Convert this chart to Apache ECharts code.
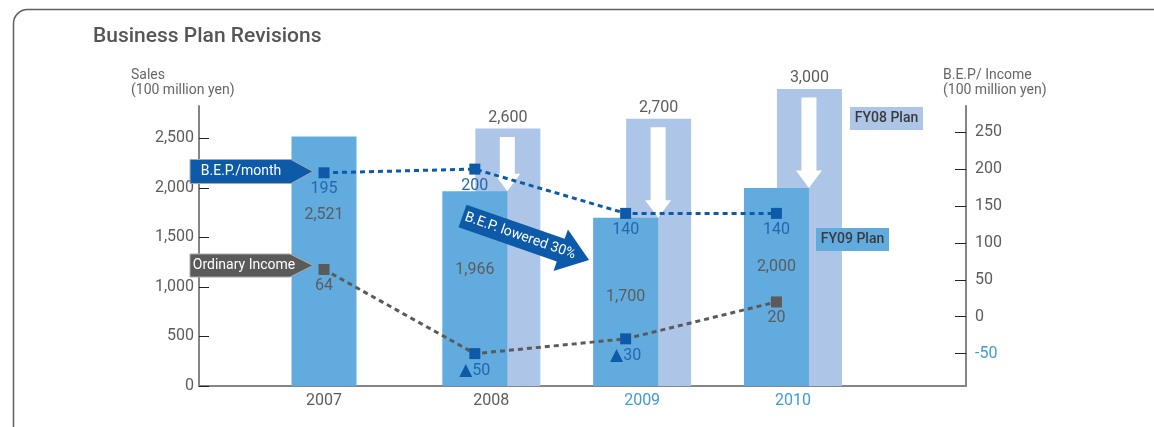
<!DOCTYPE html>
<html><head><meta charset="utf-8">
<script src="https://cdn.jsdelivr.net/npm/echarts@6/dist/echarts.min.js"></script>
<style>html,body{margin:0;padding:0;background:#fff}#c{width:1154px;height:427px}</style>
</head><body><div id="c"></div>
<script>
// ---- data ----
const years = ['2007', '2008', '2009', '2010'];
const forecastYears = ['2009', '2010'];
const salesFY09Plan = [2521, 1966, 1700, 2000];      // results / FY09 plan
const salesFY08Plan = [null, 2600, 2700, 3000];      // FY08 plan
const bepPerMonth = [195, 200, 140, 140];
const ordinaryIncome = [64, -50, -30, 20];
const salesTicks = [0, 500, 1000, 1500, 2000, 2500];
const incomeTicks = [-50, 0, 50, 100, 150, 200, 250];

// ---- style ----
const FONT = 'Roboto, "Liberation Sans", sans-serif';
const C = {
  front: '#62abdf', back: '#adc6e7', blue: '#0d5ba8', blueText: '#2168b1',
  gray: '#5a5a5a', text: '#5c5c5c', yearBlue: '#3f9ad8', axis: '#858585', tick: '#222'
};
const fmt = v => Number(v).toLocaleString('en-US');
const backShift = 33 / 150.8; // back bar offset, in x-axis units

const chart = echarts.init(document.getElementById('c'), null, { renderer: 'canvas' });

const option = {
  animation: false,
  backgroundColor: '#fff',
  textStyle: { fontFamily: FONT },
  grid: { left: 199, right: 188, top: 106, bottom: 41 },
  xAxis: [
    {
      type: 'value', min: -0.829, max: 4.257,
      axisLine: { show: true, onZero: false, lineStyle: { color: C.axis, width: 2 } },
      axisTick: { show: false }, splitLine: { show: false },
      axisLabel: {
        customValues: years.map((y, i) => i), margin: 7,
        formatter: v => {
          const i = Math.round(v), y = years[i];
          const key = (forecastYears.includes(y) ? 'b' : 'g') + (salesFY08Plan[i] != null ? 's' : '');
          return '{' + key + '|' + y + '}';
        },
        rich: {
          g: { color: C.text, fontSize: 16, fontFamily: FONT },
          gs: { color: C.text, fontSize: 16, fontFamily: FONT, padding: [0, 0, 0, 33] },
          bs: { color: C.yearBlue, fontSize: 16, fontFamily: FONT, padding: [0, 0, 0, 33] }
        }
      }
    },
    { type: 'value', min: -0.829 - backShift, max: 4.257 - backShift, show: false }
  ],
  yAxis: [
    {
      type: 'value', position: 'left', min: 0, max: 2828,
      axisLine: { show: true, onZero: false, lineStyle: { color: C.axis, width: 2 } },
      axisTick: { show: true, inside: true, length: 10, customValues: salesTicks, lineStyle: { color: C.tick, width: 1 } },
      axisLabel: { customValues: salesTicks, margin: 5, color: C.text, fontSize: 16, formatter: v => fmt(v) },
      splitLine: { show: false }
    },
    {
      type: 'value', position: 'right', min: -93.9, max: 285.5,
      axisLine: { show: true, onZero: false, lineStyle: { color: C.axis, width: 2 } },
      axisTick: { show: true, inside: true, length: 11, customValues: incomeTicks, lineStyle: { color: C.tick, width: 1 } },
      axisLabel: { customValues: incomeTicks, margin: 9, fontSize: 16, color: v => (Number(v) < 0 ? C.yearBlue : C.text) },
      splitLine: { show: false }
    }
  ],
  series: [
    {
      name: 'FY08 Plan', type: 'bar', xAxisIndex: 1, yAxisIndex: 0, barWidth: 65, clip: false, z: 2,
      itemStyle: { color: C.back },
      label: { show: true, position: 'top', distance: 3, color: C.text, fontSize: 16, formatter: p => fmt(p.value[1]) },
      data: salesFY08Plan.map((v, i) => (v == null ? null : [i, v])).filter(d => d)
    },
    {
      name: 'FY09 Plan', type: 'bar', xAxisIndex: 0, yAxisIndex: 0, barWidth: 65, clip: false, z: 3,
      itemStyle: { color: C.front },
      label: { show: true, position: ['50%', 79], align: 'center', verticalAlign: 'middle', color: C.text, fontSize: 16, formatter: p => fmt(p.value[1]) },
      data: salesFY09Plan.map((v, i) => [i, v])
    },
    {
      name: 'Revision', type: 'custom', xAxisIndex: 1, yAxisIndex: 0, z: 4, clip: false,
      encode: { x: 0, y: [1, 2] },
      data: salesFY08Plan.map((v, i) => (v == null ? null : [i, v, salesFY09Plan[i]])).filter(d => d),
      renderItem: (params, api) => {
        const x = api.value(0);
        const top = api.coord([x, api.value(1)]);
        const tip = api.coord([x, api.value(2)]);
        const cx = top[0] - 0.5, y0 = top[1] + 8.5, y1 = tip[1], hl = 17.5, sw = 7.5, hw = 13;
        return {
          type: 'polygon',
          shape: { points: [[cx - sw, y0], [cx + sw, y0], [cx + sw, y1 - hl], [cx + hw, y1 - hl], [cx, y1], [cx - hw, y1 - hl], [cx - sw, y1 - hl]] },
          style: { fill: '#fff' }
        };
      }
    },
    {
      name: 'B.E.P./month', type: 'line', xAxisIndex: 0, yAxisIndex: 1, z: 5,
      symbol: 'rect', symbolSize: 11,
      itemStyle: { color: C.blue },
      lineStyle: { color: C.blue, width: 3, type: [5, 4] },
      label: { show: true, position: 'bottom', distance: 3, color: C.blueText, fontSize: 16, formatter: p => p.value[1] },
      data: bepPerMonth.map((v, i) => [i, v])
    },
    {
      name: 'Ordinary Income', type: 'line', xAxisIndex: 0, yAxisIndex: 1, z: 5,
      symbol: 'rect', symbolSize: 11,
      itemStyle: { color: p => (p.value[1] < 0 ? C.blue : C.gray) },
      lineStyle: { color: C.gray, width: 3, type: [5, 4] },
      label: {
        show: true, position: 'bottom', distance: 3, fontSize: 16,
        formatter: p => (p.value[1] < 0 ? '{t|▲}{n|' + (-p.value[1]) + '}' : '{p|' + p.value[1] + '}'),
        rich: {
          t: { color: C.blue, fontSize: 17, fontFamily: '"DejaVu Sans"' },
          n: { color: C.blueText, fontSize: 16, fontFamily: FONT },
          p: { color: C.text, fontSize: 16, fontFamily: FONT }
        }
      },
      data: ordinaryIncome.map((v, i) => [i, v])
    }
  ],
  graphic: [
    { type: 'rect', silent: true, z: 0, shape: { x: 13.5, y: 9.5, width: 1400, height: 800, r: 14 }, style: { fill: null, stroke: '#5e5e5e', lineWidth: 1.5 } },
    { type: 'text', z: 100, x: 93, y: 37, style: { text: 'Business Plan Revisions', font: '500 21px ' + FONT, fill: '#555', align: 'left', verticalAlign: 'middle' } },
    { type: 'text', z: 100, x: 131, y: 82.5, style: { text: 'Sales\n(100 million yen)', font: '14px ' + FONT, lineHeight: 15, fill: '#666', align: 'left', verticalAlign: 'middle' } },
    { type: 'text', z: 100, x: 943, y: 82.5, style: { text: 'B.E.P/ Income\n(100 million yen)', font: '14px ' + FONT, lineHeight: 15, fill: '#666', align: 'left', verticalAlign: 'middle' } },
    // callouts
    { type: 'polygon', z: 100, shape: { points: [[190, 159.5], [291, 159.5], [313, 171.5], [291, 183.5], [190, 183.5]] }, style: { fill: C.blue, stroke: '#a9a9a9', lineWidth: 1 } },
    { type: 'text', z: 101, x: 241, y: 171.5, style: { text: 'B.E.P./month', font: '14px ' + FONT, fill: '#fff', align: 'center', verticalAlign: 'middle' } },
    { type: 'polygon', z: 100, shape: { points: [[190, 254], [290, 254], [313, 265.5], [290, 277], [190, 277]] }, style: { fill: C.gray, stroke: '#a9a9a9', lineWidth: 1 } },
    { type: 'text', z: 101, x: 244, y: 265.5, style: { text: 'Ordinary Income', font: '14px ' + FONT, fill: '#fff', align: 'center', verticalAlign: 'middle' } },
    {
      type: 'group', x: 462.5, y: 216, rotation: -0.335,
      children: [
        { type: 'polygon', z: 100, shape: { points: [[0, -12], [104, -12], [104, -22], [134, 0], [104, 22], [104, 12], [0, 12]] }, style: { fill: C.blue } },
        { type: 'text', z: 101, x: 61, y: 0, style: { text: 'B.E.P. lowered 30%', font: '14px ' + FONT, fill: '#fff', align: 'center', verticalAlign: 'middle' } }
      ]
    },
    // legend boxes
    { type: 'rect', z: 100, shape: { x: 850, y: 107, width: 73, height: 23 }, style: { fill: C.back } },
    { type: 'text', z: 101, x: 886.5, y: 118.5, style: { text: 'FY08 Plan', font: '500 14px ' + FONT, fill: '#3a3a3a', align: 'center', verticalAlign: 'middle' } },
    { type: 'rect', z: 100, shape: { x: 816, y: 228, width: 73, height: 23 }, style: { fill: C.front } },
    { type: 'text', z: 101, x: 852.5, y: 239.5, style: { text: 'FY09 Plan', font: '500 14px ' + FONT, fill: '#3a3a3a', align: 'center', verticalAlign: 'middle' } }
  ]
};
chart.setOption(option);
</script>
</body></html>
